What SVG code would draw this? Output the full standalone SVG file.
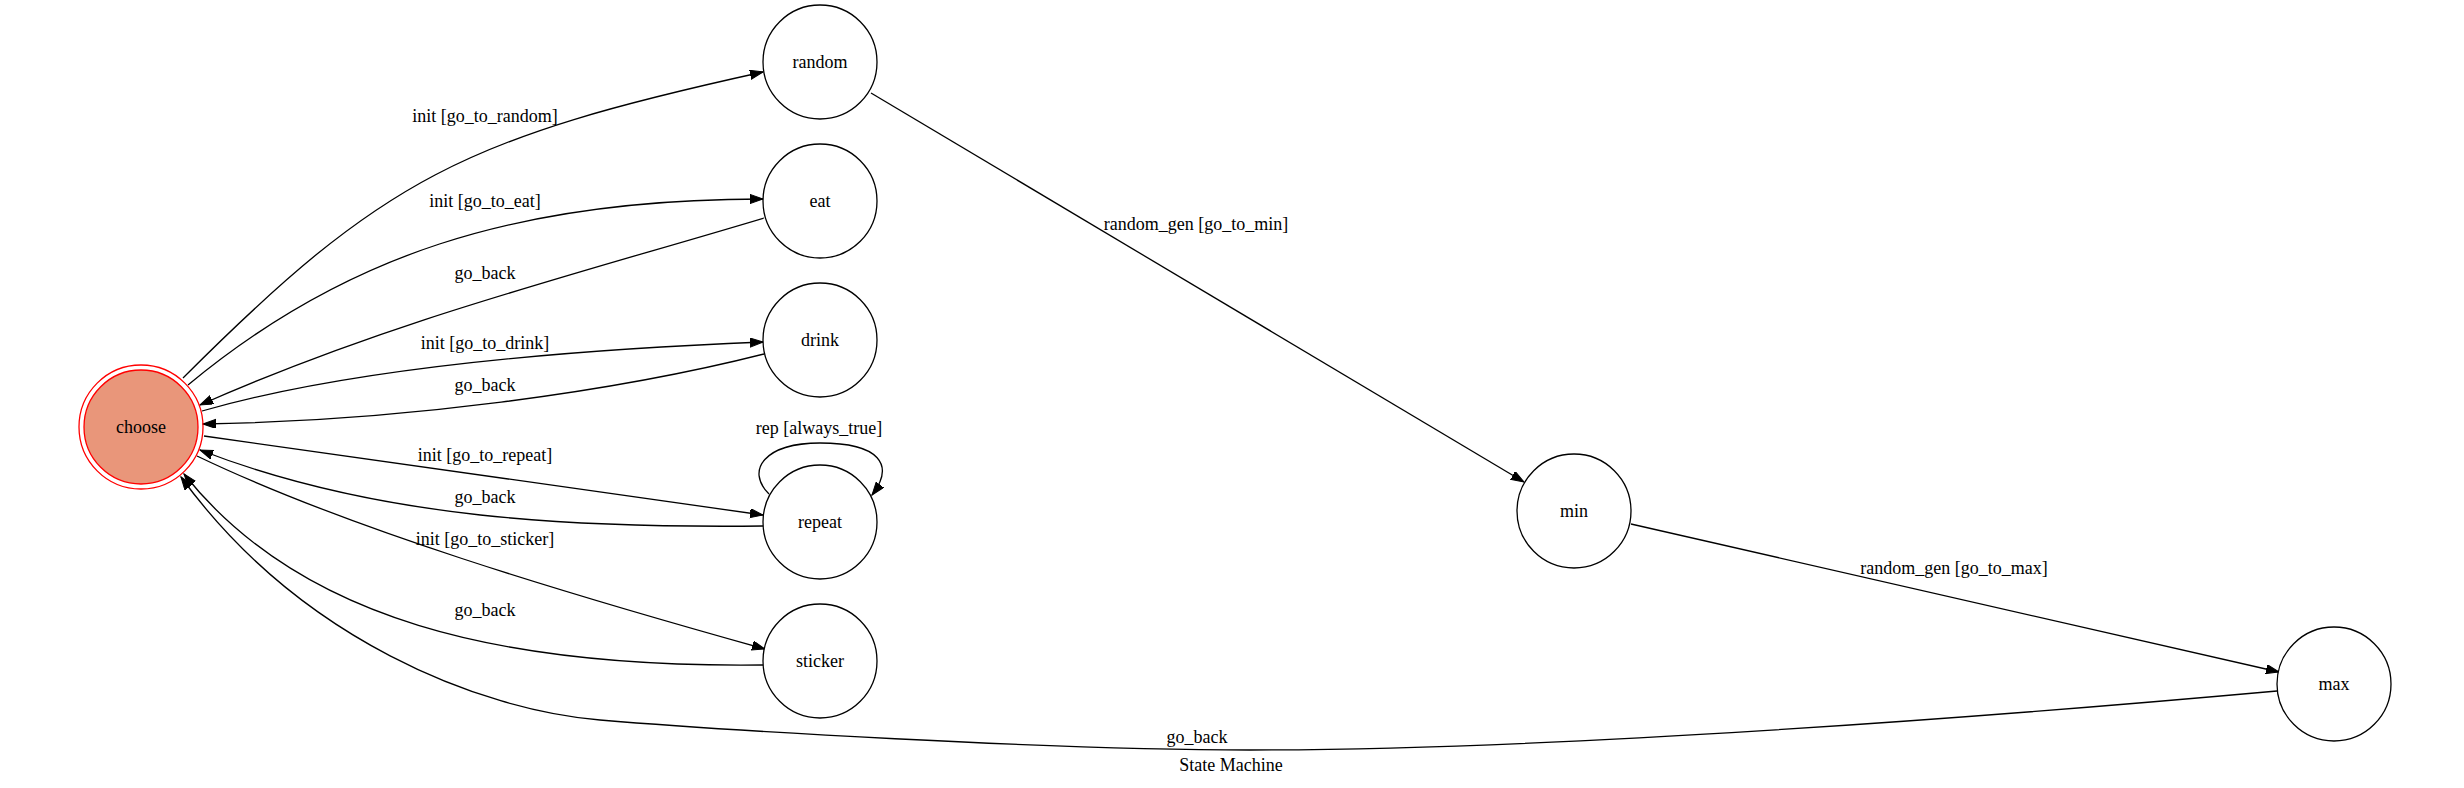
<svg xmlns="http://www.w3.org/2000/svg" width="2464" height="788" viewBox="0 0 2464 788">
<style>
  text { font-family: "Liberation Serif", "Times New Roman", serif; font-size: 18px; fill: #000; text-anchor: middle; }
  .node { fill: #fff; stroke: #000; stroke-width: 1.3; }
  .edge { fill: none; stroke: #000; stroke-width: 1.3; marker-end: url(#arrow); }
  .start { fill: #E9967A; stroke: #ff0000; stroke-width: 1.3; }
  .startOuter { fill: none; stroke: #ff0000; stroke-width: 1.3; }
</style>
<defs>
  <marker id="arrow" markerUnits="userSpaceOnUse" markerWidth="14" markerHeight="10" refX="13" refY="4.6" orient="auto">
    <path d="M0,0 L13,4.6 L0,9.2 z" fill="#000" stroke="#000" stroke-width="1"/>
  </marker>
</defs>
<rect width="2464" height="788" fill="#fff"/>

<g id="connectors">
  <path class="edge" d="M183,378 C383,178 463,138 763,72"/>
  <path class="edge" d="M188,385 C342,257 513,199 763,199"/>
  <path class="edge" d="M764,218 C574,275 390,321 200,405"/>
  <path class="edge" d="M202,411 C352,368 563,350 763,342"/>
  <path class="edge" d="M764,354 C614,392 400,421 203,424"/>
  <path class="edge" d="M204,436 L763,515"/>
  <path class="edge" d="M763,526 C580,528 380,520 200,450"/>
  <path class="edge" d="M769,494 C745,470 765,443 820,443 C880,443 895,465 872,495"/>
  <path class="edge" d="M197,456 C347,528 564,593 765,649"/>
  <path class="edge" d="M763,665 C500,668 300,620 184,474"/>
  <path class="edge" d="M2277,691 C1977,718 1550,750 1250,750 C1050,750 720,730 600,720 C480,710 300,640 181,477"/>
  <path class="edge" d="M871,93 L1524,482"/>
  <path class="edge" d="M1631,524 L2279,672"/>

  <text x="485" y="122">init [go_to_random]</text>
  <text x="485" y="207">init [go_to_eat]</text>
  <text x="485" y="279">go_back</text>
  <text x="485" y="349">init [go_to_drink]</text>
  <text x="485" y="391">go_back</text>
  <text x="485" y="461">init [go_to_repeat]</text>
  <text x="819" y="434">rep [always_true]</text>
  <text x="485" y="503">go_back</text>
  <text x="485" y="545">init [go_to_sticker]</text>
  <text x="485" y="616">go_back</text>
  <text x="1196" y="230">random_gen [go_to_min]</text>
  <text x="1954" y="574">random_gen [go_to_max]</text>
  <text x="1197" y="743">go_back</text>
</g>

<g id="node-choose">
  <circle class="startOuter" cx="141" cy="427" r="62"/>
  <circle class="start" cx="141" cy="427" r="57"/>
  <text x="141" y="433">choose</text>
</g>
<g id="node-random">
  <circle class="node" cx="820" cy="62" r="57"/>
  <text x="820" y="68">random</text>
</g>
<g id="node-eat">
  <circle class="node" cx="820" cy="201" r="57"/>
  <text x="820" y="207">eat</text>
</g>
<g id="node-drink">
  <circle class="node" cx="820" cy="340" r="57"/>
  <text x="820" y="346">drink</text>
</g>
<g id="node-repeat">
  <circle class="node" cx="820" cy="522" r="57"/>
  <text x="820" y="528">repeat</text>
</g>
<g id="node-sticker">
  <circle class="node" cx="820" cy="661" r="57"/>
  <text x="820" y="667">sticker</text>
</g>
<g id="node-min">
  <circle class="node" cx="1574" cy="511" r="57"/>
  <text x="1574" y="517">min</text>
</g>
<g id="node-max">
  <circle class="node" cx="2334" cy="684" r="57"/>
  <text x="2334" y="690">max</text>
</g>

<text x="1231" y="771">State Machine</text>
</svg>
